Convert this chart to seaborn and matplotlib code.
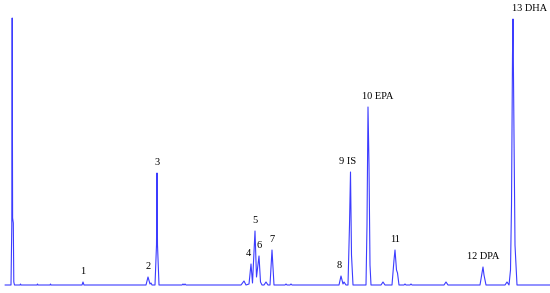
import pandas as pd
import matplotlib.pyplot as plt
import seaborn as sns

# retention time (min) and detector signal (a.u.)
time = [
    0.5, 1.10, 1.18, 1.22, 1.26, 1.33, 1.38, 1.45,
    2.0, 2.05, 2.1, 3.7, 3.75, 3.8, 5.0, 5.05, 5.1,
    8.2, 8.3, 8.4,
    14.6, 14.8, 15.0, 15.1, 15.2,
    15.5, 15.65, 15.7, 15.75, 15.9,
    18.2, 18.3, 18.4, 18.5, 18.6,
    24.1, 24.4, 24.6,
    24.9, 25.1, 25.25, 25.5, 25.65, 25.9, 26.05, 26.2,
    26.4, 26.6, 26.8,
    27.0, 27.2, 27.4,
    28.5, 28.6, 28.7, 29.0, 29.1, 29.2,
    33.9, 34.1, 34.3, 34.4, 34.6,
    34.8, 34.95, 35.05, 35.15, 35.3,
    36.6, 36.7, 36.8, 36.9, 37.0, 37.1,
    38.1, 38.3, 38.5,
    39.2, 39.4, 39.5, 39.65, 39.75, 39.9,
    40.4, 40.5, 40.6, 41.0, 41.1, 41.2,
    44.4, 44.6, 44.8,
    48.0, 48.2, 48.3, 48.4, 48.6,
    50.5, 50.7, 50.9,
    51.05, 51.15, 51.25, 51.3, 51.4, 51.5, 51.7,
    55.0,
]
signal = [
    0, 0, 60, 267, 67, 62, 3, 0,
    0, 1, 0, 0, 1, 0, 0, 1, 0,
    0, 3, 0,
    0, 8, 1, 2, 0,
    0, 40, 112, 40, 0,
    0, 1, 0, 1, 0,
    0, 4, 0,
    1, 21, 2, 54, 8, 29, 3, 0,
    0, 3, 0,
    0, 35, 0,
    0, 1, 0, 0, 1, 0,
    0, 9, 1, 3, 0,
    0, 60, 113, 30, 0,
    0, 60, 178, 120, 20, 0,
    0, 3, 0,
    0, 25, 35, 15, 12, 0,
    0, 1, 0, 0, 1, 0,
    0, 3, 0,
    0, 12, 18, 10, 0,
    0, 3, 0,
    15, 80, 230, 266, 150, 40, 0,
    0,
]

# peak labels
peak_names = ["1", "2", "3", "4", "5", "6", "7", "8", "9 IS", "10 EPA", "11", "12 DPA", "13 DHA"]
peak_times = [8.3, 14.8, 15.7, 24.8, 25.5, 25.9, 27.2, 33.9, 34.8, 37.8, 39.5, 48.3, 53.0]
peak_heights = [3, 8, 112, 21, 54, 29, 35, 9, 113, 178, 35, 18, 266]

df = pd.DataFrame({"time": time, "signal": signal})

sns.set_style("white")
fig = plt.figure(figsize=(5.5, 2.93), dpi=100)
ax = fig.add_axes([0, 0, 1, 1])

sns.lineplot(data=df, x="time", y="signal", estimator=None, sort=False,
             color="#3c3cff", linewidth=0.8, ax=ax)

for name, t, h in zip(peak_names, peak_times, peak_heights):
    ax.annotate(name, xy=(t, h), xytext=(0, 4), textcoords="offset points",
                ha="center", va="bottom", fontsize=7.5, family="Liberation Serif",
                color="black")

ax.set_xlim(0, 55)
ax.set_ylim(-8, 285)
ax.set_axis_off()

fig.savefig("out.png", dpi=100)
plt.close()
